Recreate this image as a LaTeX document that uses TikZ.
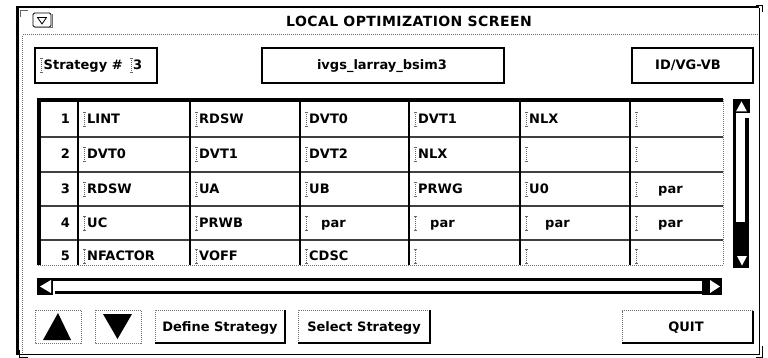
\documentclass[tikz,border=0pt]{standalone}
\usepackage{fontspec}
\setmainfont{DejaVu Sans}
\begin{document}
\begin{tikzpicture}[x=1pt,y=-1pt,
  txt/.style={font=\bfseries\fontsize{13}{14}\selectfont, inner sep=0pt, text height=9.3pt, text depth=0pt},
  cell/.style={txt, anchor=west},
  dots/.style={draw=black!55, line width=1pt, dash pattern=on 1pt off 1pt},
  topbox/.style={draw, line width=1.2pt, inner sep=0pt},
  ibeam/.pic={
    \draw[black!60, line width=0.7pt, dash pattern=on 1pt off 1pt] (0,-6.5) -- (0,6.5);
    \draw[black!60, line width=0.6pt] (-1.5,-7) -- (1.5,-7) (-1.5,7) -- (1.5,7);
  }]
\useasboundingbox (0,0) rectangle (768,358);
\fill[white] (0,0) rectangle (768,358);

% ---- window frame ----
\fill (16,6) rectangle (759,8.5);
\fill (16,6) rectangle (19,355);
\draw[line width=1pt] (759.5,8) -- (759.5,354.5) -- (19,354.5);
\draw[black!60, line width=0.8pt] (20.5,17) -- (20.5,10.5) -- (28,10.5);
\draw[line width=0.8pt] (756,5.5) -- (762.5,5.5) -- (762.5,12);
\draw[line width=0.8pt] (762.5,346) -- (762.5,357.5) -- (756,357.5);
\draw[line width=0.8pt] (19,350) -- (19,357.5) -- (28,357.5);

% title bar
\draw[rounded corners=1.5pt, line width=0.9pt] (33,13) rectangle (51,27);
\draw[black!55, line width=1pt] (52,14.5) -- (52,28) -- (34.5,28);
\draw[line width=0.8pt] (37.5,17.5) -- (46.5,17.5) -- (42,24) -- cycle;
\node[font=\bfseries\fontsize{14}{15}\selectfont\addfontfeatures{LetterSpace=3}, inner sep=0pt, text height=10pt, text depth=0pt] (title) at (409,22) {LOCAL OPTIMIZATION SCREEN};

% inner panel edges
\draw[dots] (22.5,353) -- (22.5,35) -- (758,35);

% ---- header boxes ----
\node[topbox, minimum width=122pt, minimum height=35pt] (stratbox) at (96,65.5) {};
\pic at (41,65) {ibeam};
\node[cell] (strat) at (43.5,65) {Strategy \#};
\pic at (131,65) {ibeam};
\node[cell] (stratnum) at (133,65) {3};

\node[topbox, minimum width=242pt, minimum height=35pt] (devbox) at (383,65.5) {};
\node[txt] (dev) at (382,65) {ivgs\_larray\_bsim3};

\node[topbox, minimum width=121pt, minimum height=35pt] (curvebox) at (692.5,65.5) {};
\node[txt] (curve) at (688,65) {ID/VG-VB};

% ---- parameter table ----
\fill (37,98) rectangle (723,102);
\fill (37,98) rectangle (41,265);
\foreach \y in {137,172,206,240} \draw[black!75, line width=1.3pt] (41,\y) -- (723,\y);
\foreach \x in {78,190,300,409,520,630} \draw[line width=2.2pt] (\x,102) -- (\x,265);
\draw[dots] (723,99) -- (723,265) -- (37,265);

\foreach \n/\y in {1/119,2/154,3/189,4/223,5/256}
  \node[txt, anchor=east] (row\n) at (70,\y) {\n};

\foreach \x in {84,196,306,415,526,636}
  \foreach \y in {119,154,189,223,256}
    \pic at (\x,\y) {ibeam};

\node[cell] (c11) at (87,119) {LINT};
\node[cell] (c12) at (199,119) {RDSW};
\node[cell] (c13) at (309,119) {DVT0};
\node[cell] (c14) at (418,119) {DVT1};
\node[cell] (c15) at (529,119) {NLX};

\node[cell] (c21) at (87,154) {DVT0};
\node[cell] (c22) at (199,154) {DVT1};
\node[cell] (c23) at (309,154) {DVT2};
\node[cell] (c24) at (418,154) {NLX};

\node[cell] (c31) at (87,189) {RDSW};
\node[cell] (c32) at (199,189) {UA};
\node[cell] (c33) at (309,189) {UB};
\node[cell] (c34) at (418,189) {PRWG};
\node[cell] (c35) at (529,189) {U0};
\node[cell] (c36) at (658,189) {par};

\node[cell] (c41) at (87,223) {UC};
\node[cell] (c42) at (199,223) {PRWB};
\node[cell] (c43) at (321,223) {par};
\node[cell] (c44) at (430,223) {par};
\node[cell] (c45) at (545,223) {par};
\node[cell] (c46) at (658,223) {par};

\node[cell] (c51) at (87,256) {NFACTOR};
\node[cell] (c52) at (199,256) {VOFF};
\node[cell] (c53) at (309,256) {CDSC};

% ---- vertical scroll bar ----
\fill (733,99) rectangle (750,113);
\fill[white] (741.5,101.5) -- (736,111.5) -- (747,111.5) -- cycle;
\fill (733,113) rectangle (736,268);
\fill (745,118) rectangle (748.5,222);
\fill (733,222) rectangle (748.5,268);
\fill[white] (737,256) -- (747,256) -- (742,265.5) -- cycle;

% ---- horizontal scroll bar ----
\fill (37,278) rectangle (53,295);
\fill[white] (40,286.5) -- (51,280) -- (51,293) -- cycle;
\fill (53,278) rectangle (722,281);
\fill (55,291) rectangle (702,294);
\fill (702,278) rectangle (722,295);
\fill[white] (710,280) -- (710,293) -- (720,286.5) -- cycle;

% ---- buttons ----
\draw[dots] (35,310) rectangle (81,343);
\coordinate (upbtn) at (58,327);
\fill (58,313) -- (43,340) -- (71,340) -- cycle;
\draw[dots] (95,310) rectangle (141,343);
\coordinate (downbtn) at (117,327);
\fill (103,314) -- (132,314) -- (117.5,339) -- cycle;

\draw[dots] (155,343) -- (155,310) -- (285,310);
\draw[line width=1.8pt] (285,310) -- (285,343) -- (155,343);
\node[txt] (define) at (220,327) {Define Strategy};

\draw[dots] (298,343) -- (298,310) -- (430,310);
\draw[line width=1.8pt] (430,310) -- (430,343) -- (298,343);
\node[txt] (select) at (364,327) {Select Strategy};

\draw[dots] (622,343) -- (622,310.5) -- (753,310.5);
\draw[line width=1.8pt] (753,310.5) -- (753,343) -- (622,343);
\node[txt] (quit) at (686,327) {QUIT};
\end{tikzpicture}
\end{document}
